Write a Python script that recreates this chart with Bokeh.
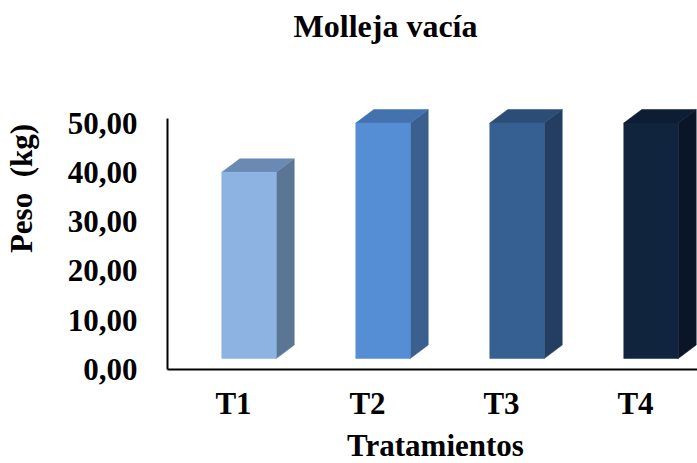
import numpy as np
from bokeh.plotting import figure
from bokeh.models import Range1d, FixedTicker, Label
from bokeh.embed import file_html
from bokeh.resources import INLINE

# Data
treatments = ["T1", "T2", "T3", "T4"]
weights = [40.0, 50.0, 50.0, 50.0]
y_ticks = [0, 10, 20, 30, 40, 50]
y_tick_labels = ["0,00", "10,00", "20,00", "30,00", "40,00", "50,00"]

# Face colours of the 3D columns (front, top, side)
front_colors = ["#8DB3E2", "#558ED5", "#376092", "#10243E"]
top_colors = ["#6A8AB4", "#4472AE", "#2C4D76", "#0D1D33"]
side_colors = ["#5B7594", "#3B5F8E", "#233E60", "#0A1628"]

FONT = "Liberation Serif"
FS = "31px"
W, H = 697, 463

# The frame fills the whole canvas; both axes are pinned inside it so that
# every title can be placed freely as a label.
AXIS_X, AXIS_Y = 167, 369   # pixel position of the vertical / horizontal axis
PX_CAT = 134.0              # pixels per category
PX_UNIT = 4.93              # pixels per kg
FIRST_CENTER = 233          # pixel position of the first category


def data_x(px):
    return 1 + (px - FIRST_CENTER) / PX_CAT


def data_y(py):
    return (AXIS_Y - py) / PX_UNIT


p = figure(width=W, height=H, output_backend="svg", toolbar_location=None,
           x_range=Range1d(data_x(0), data_x(W)),
           y_range=Range1d(data_y(H), data_y(0)),
           min_border=0)
p.title.visible = False
p.outline_line_color = None
p.xgrid.visible = False
p.ygrid.visible = False
p.background_fill_color = "white"
p.border_fill_color = "white"

# 3D column geometry
pos = np.arange(1, len(treatments) + 1, dtype=float)
vals = np.array(weights)
off = 15.5 / PX_CAT
half = 27.25 / PX_CAT
dx = 18.0 / PX_CAT
dy = 13.5 / PX_UNIT
floor = 11.0 / PX_UNIT

left = pos + off - half
right = pos + off + half

side_xs = [[r, r + dx, r + dx, r] for r in right]
side_ys = [[floor, floor + dy, v + dy, v] for v in vals]
top_xs = [[l, l + dx, r + dx, r] for l, r in zip(left, right)]
top_ys = [[v, v + dy, v + dy, v] for v in vals]

p.patches(side_xs, side_ys, fill_color=side_colors, line_color=side_colors, line_width=0.5)
p.patches(top_xs, top_ys, fill_color=top_colors, line_color=top_colors, line_width=0.5)
p.quad(left=left, right=right, bottom=floor, top=vals,
       fill_color=front_colors, line_color=front_colors, line_width=0.5)

# Axes
label_style = dict(major_label_text_font=FONT, major_label_text_font_style="bold",
                   major_label_text_font_size=FS, major_label_text_color="black")

xa = p.xaxis[0]
xa.fixed_location = 0
xa.bounds = (data_x(AXIS_X), data_x(W))
xa.ticker = FixedTicker(ticks=list(pos))
xa.major_label_overrides = {int(k): t for k, t in zip(pos, treatments)}
xa.major_tick_line_color = None
xa.minor_tick_line_color = None
xa.major_tick_out = 0
xa.major_tick_in = 0
xa.axis_line_color = "black"
xa.axis_line_width = 2
xa.major_label_standoff = 16
xa.update(**label_style)

ya = p.yaxis[0]
ya.fixed_location = data_x(AXIS_X)
ya.bounds = (0, 51)
ya.ticker = FixedTicker(ticks=y_ticks)
ya.major_label_overrides = {k: t for k, t in zip(y_ticks, y_tick_labels)}
ya.major_tick_line_color = None
ya.minor_tick_line_color = None
ya.major_tick_out = 0
ya.major_tick_in = 0
ya.axis_line_color = "black"
ya.axis_line_width = 2
ya.major_label_standoff = 30
ya.update(**label_style)

# Titles (positions given as the baseline of each text)
text_style = dict(text_font=FONT, text_font_style="bold", text_color="black",
                  text_baseline="alphabetic", text_align="center")
p.add_layout(Label(x=data_x(385), y=data_y(25), text="Molleja vacía",
                   text_font_size="32px", **text_style))
p.add_layout(Label(x=data_x(435), y=data_y(445), text="Tratamientos",
                   text_font_size=FS, **text_style))
p.add_layout(Label(x=data_x(21), y=data_y(188), text="Peso\u00a0 (kg)", angle=np.pi / 2,
                   text_font_size=FS, **text_style))

open("out.html", "w").write(file_html(p, INLINE))
